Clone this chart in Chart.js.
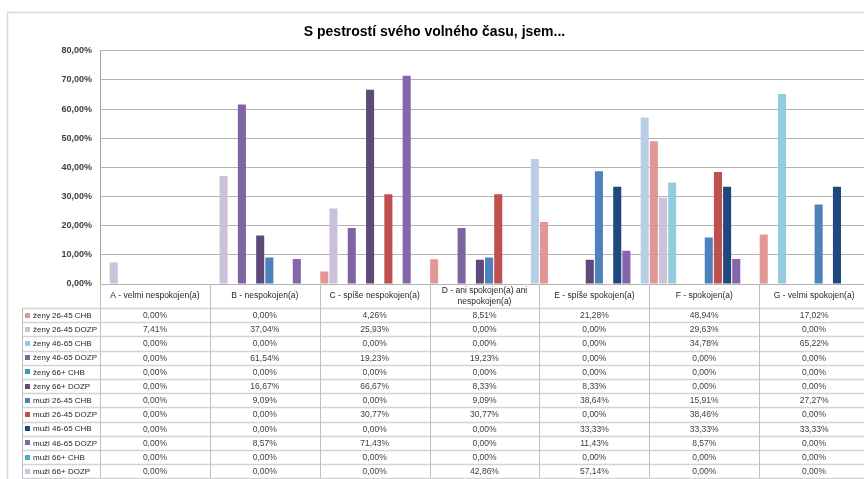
<!DOCTYPE html>
<html>
<head>
<meta charset="utf-8">
<script src="https://cdn.jsdelivr.net/npm/chart.js@4/dist/chart.umd.min.js"></script>
<style>
    body { margin: 0; background: #fff; }
    #wrap { width: 864px; height: 479px; overflow: hidden; }
</style>
</head>
<body>
<div id="wrap"><canvas id="chart" width="880" height="479"></canvas></div>
<script>
// categories (x axis / table columns)
const categories = [
    "A - velmi nespokojen(a)",
    "B - nespokojen(a)",
    "C - spíše nespokojen(a)",
    ["D - ani spokojen(a) ani", "nespokojen(a)"],
    "E - spíše spokojen(a)",
    "F - spokojen(a)",
    "G - velmi spokojen(a)"
];

const seriesNames = [
    "ženy 26-45 CHB", "ženy 26-45 DOZP", "ženy 46-65 CHB", "ženy 46-65 DOZP",
    "ženy 66+ CHB", "ženy 66+ DOZP", "muži 26-45 CHB", "muži 26-45 DOZP",
    "muži 46-65 CHB", "muži 46-65 DOZP", "muži 66+ CHB", "muži 66+ DOZP"
];

// values in percent, per series
const zeny2645CHB  = [0, 0, 4.26, 8.51, 21.28, 48.94, 17.02];
const zeny2645DOZP = [7.41, 37.04, 25.93, 0, 0, 29.63, 0];
const zeny4665CHB  = [0, 0, 0, 0, 0, 34.78, 65.22];
const zeny4665DOZP = [0, 61.54, 19.23, 19.23, 0, 0, 0];
const zeny66CHB    = [0, 0, 0, 0, 0, 0, 0];
const zeny66DOZP   = [0, 16.67, 66.67, 8.33, 8.33, 0, 0];
const muzi2645CHB  = [0, 9.09, 0, 9.09, 38.64, 15.91, 27.27];
const muzi2645DOZP = [0, 0, 30.77, 30.77, 0, 38.46, 0];
const muzi4665CHB  = [0, 0, 0, 0, 33.33, 33.33, 33.33];
const muzi4665DOZP = [0, 8.57, 71.43, 0, 11.43, 8.57, 0];
const muzi66CHB    = [0, 0, 0, 0, 0, 0, 0];
const muzi66DOZP   = [0, 0, 0, 42.86, 57.14, 0, 0];

const seriesValues = [
    zeny2645CHB, zeny2645DOZP, zeny4665CHB, zeny4665DOZP, zeny66CHB, zeny66DOZP,
    muzi2645CHB, muzi2645DOZP, muzi4665CHB, muzi4665DOZP, muzi66CHB, muzi66DOZP
];

const yTicks = [0, 10, 20, 30, 40, 50, 60, 70, 80];

const colors = [
    "#E09796", "#CCC1DA", "#93CDDD", "#8064A2", "#3E9AB3", "#5F497A",
    "#4F81BD", "#C0504D", "#1F497D", "#8566AB", "#4BACC6", "#B9CDE5"
];

const FONT = "'Liberation Sans', Arial, sans-serif";

function fmt(v) {
    return v.toFixed(2).replace(".", ",") + "%";
}

// draws the frame and the data table under the plot
const tablePlugin = {
    id: "dataTable",
    beforeDraw(chart) {
        const ctx = chart.ctx;
        ctx.save();
        ctx.strokeStyle = "#D9D9D9";
        ctx.lineWidth = 1.5;
        ctx.strokeRect(7.5, 12.5, 900, 500);
        ctx.restore();
    },
    afterDraw(chart) {
        const ctx = chart.ctx;
        const xs = chart.scales.x;
        const area = chart.chartArea;
        const catW = (area.right - area.left) / categories.length;
        const headTop = area.bottom;
        const rowTop = 308;
        const rowH = 14.2;
        const tableLeft = 22;
        const bottom = rowTop + rowH * seriesNames.length;

        ctx.save();
        // horizontal row lines
        ctx.strokeStyle = "#D4D4D4";
        ctx.lineWidth = 1.5;
        for (let r = 0; r <= seriesNames.length; r++) {
            const y = Math.round(rowTop + rowH * r) + 0.5;
            ctx.beginPath();
            ctx.moveTo(tableLeft, y);
            ctx.lineTo(chart.width, y);
            ctx.stroke();
        }
        // vertical lines
        ctx.strokeStyle = "#BFBFBF";
        ctx.lineWidth = 1;
        ctx.beginPath();
        ctx.moveTo(tableLeft + 0.5, rowTop);
        ctx.lineTo(tableLeft + 0.5, bottom);
        ctx.moveTo(area.left + 0.5, headTop);
        ctx.lineTo(area.left + 0.5, bottom);
        for (let i = 1; i <= categories.length; i++) {
            const x = Math.round(xs.getPixelForValue(i) - catW / 2) + 0.5;
            ctx.moveTo(x, headTop);
            ctx.lineTo(x, bottom);
        }
        ctx.stroke();

        // header labels
        ctx.fillStyle = "#262626";
        ctx.font = "8.5px " + FONT;
        ctx.textAlign = "center";
        ctx.textBaseline = "middle";
        categories.forEach((c, i) => {
            const x = xs.getPixelForValue(i);
            if (Array.isArray(c)) {
                ctx.fillText(c[0], x, headTop + 7);
                ctx.fillText(c[1], x, headTop + 18);
            } else {
                ctx.fillText(c, x, headTop + 12);
            }
        });

        // rows
        seriesNames.forEach((name, r) => {
            const cy = rowTop + rowH * r + rowH / 2 + 0.5;
            ctx.fillStyle = colors[r];
            ctx.fillRect(25, Math.round(cy) - 3, 5, 5);
            ctx.fillStyle = "#262626";
            ctx.textAlign = "left";
            ctx.font = "8px " + FONT;
            ctx.fillText(name, 33, cy);
            ctx.fillStyle = "#404040";
            ctx.textAlign = "center";
            ctx.font = "8.5px " + FONT;
            seriesValues[r].forEach((v, i) => {
                ctx.fillText(fmt(v), xs.getPixelForValue(i), cy);
            });
        });
        ctx.restore();
    }
};

new Chart(document.getElementById("chart").getContext("2d"), {
    type: "bar",
    data: {
        labels: categories,
        datasets: seriesNames.map((name, i) => ({
            label: name,
            data: seriesValues[i],
            backgroundColor: colors[i],
            borderWidth: 0,
            categoryPercentage: 1.0,
            barPercentage: 0.88
        }))
    },
    options: {
        responsive: false,
        animation: false,
        layout: { padding: { left: 0, right: 11, top: 0, bottom: 195 } },
        plugins: {
            legend: { display: false },
            tooltip: { enabled: false },
            title: {
                display: true,
                text: "S pestrostí svého volného času, jsem...",
                color: "#000",
                font: { family: FONT, size: 14, weight: "bold" },
                padding: { top: 24, bottom: 10 }
            }
        },
        scales: {
            x: { display: false },
            y: {
                min: 0,
                max: 80,
                afterFit: s => { s.width = 100; },
                afterBuildTicks: s => { s.ticks = yTicks.map(v => ({ value: v })); },
                ticks: {
                    padding: 8,
                    color: "#404040",
                    font: { family: FONT, size: 9, weight: "bold" },
                    callback: v => fmt(v)
                },
                grid: { color: "#B3B3B3", drawTicks: false },
                border: { color: "#A6A6A6" }
            }
        }
    },
    plugins: [tablePlugin]
});
</script>
</body>
</html>
